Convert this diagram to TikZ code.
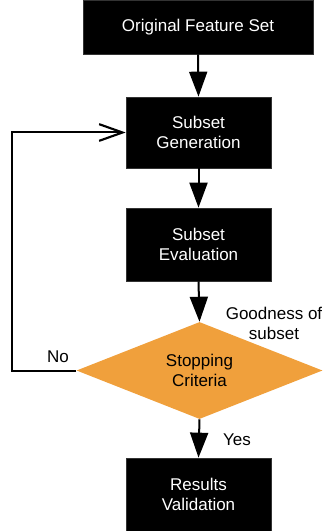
\documentclass[tikz,border=0pt]{standalone}
\usepackage{fontspec}
\setmainfont{Liberation Sans}
\usetikzlibrary{shapes.geometric,arrows.meta}
\definecolor{boxorange}{RGB}{240,160,60}
\begin{document}
\begin{tikzpicture}[x=0.75pt,y=-0.75pt,
  font=\fontsize{12.75pt}{15pt}\selectfont,
  blackbox/.style={draw=black!80,fill=black,text=white,align=center,inner sep=0pt,line width=0.5pt},
  decision/.style={diamond,fill=boxorange,draw=none,inner sep=0pt,minimum width=184.5pt,minimum height=72.75pt,aspect=2.536,align=center},
  flow/.style={line width=1.5pt,-{Triangle[length=18.75pt,width=13.5pt]}},
  loopline/.style={line width=1.5pt,-{Straight Barb[length=17.5pt,width=12.5pt,line width=1.6pt]}},
  lbl/.style={align=center,inner sep=0pt}]
\useasboundingbox (0,0) rectangle (323,531);
\node[blackbox,minimum width=172.5pt,minimum height=40.5pt] (orig) at (198,27) {Original Feature Set};
\node[blackbox,minimum width=108.75pt,minimum height=53.25pt] (gen) at (198.5,132.5) {Subset\\Generation};
\node[blackbox,minimum width=108.75pt,minimum height=54.75pt] (eval) at (198.5,244.5) {Subset\\Evaluation};
\node[decision] (stop) at (199.5,370.5) {Stopping\\Criteria};
\node[blackbox,minimum width=108.75pt,minimum height=54.75pt] (res) at (198.5,494.5) {Results\\Validation};
\coordinate (cb) at (12,370.5);
\coordinate (ct) at (12,132.5);
\draw[flow] (orig.south) -- (gen.north);
\draw[flow] (gen.south) -- (eval.north);
\draw[flow] (eval.south) -- (stop.north);
\draw[flow] (stop.south) -- (res.north);
\draw[loopline] (stop.west) -- (cb) -- (ct) -- (gen.west);
\node[lbl] (no) at (58,357) {No};
\node[lbl] (good) at (274,323) {Goodness of\\subset};
\node[lbl] (yes) at (237,440) {Yes};
\end{tikzpicture}
\end{document}
